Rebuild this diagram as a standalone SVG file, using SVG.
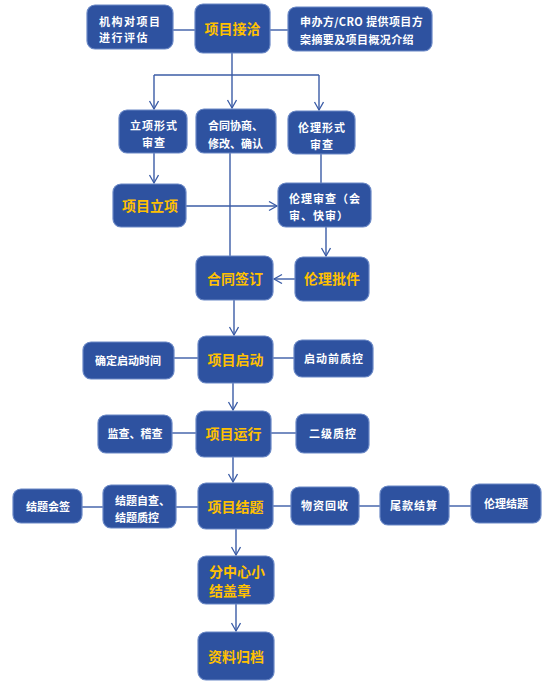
<svg xmlns="http://www.w3.org/2000/svg" width="551" height="688" viewBox="0 0 551 688">
<defs>
<marker id="arr" markerUnits="userSpaceOnUse" markerWidth="12" markerHeight="12" refX="9" refY="5" orient="auto">
<path d="M1,0.5 L9,5 L1,9.5" fill="none" stroke="#3B5CA6" stroke-width="1.3"/>
</marker>
<style>
.b{fill:#2E52A0;stroke:#6A88C6;stroke-width:1.2}
.t{font-family:"Noto Sans CJK SC","Liberation Sans",sans-serif;font-weight:bold;fill:#FFFFFF;font-size:11px}
.g{font-family:"Noto Sans CJK SC","Liberation Sans",sans-serif;font-weight:bold;fill:#FFC000;font-size:14px}
.c{text-anchor:middle}
.l{fill:none;stroke:#3B5CA6;stroke-width:1.4}
.a{fill:none;stroke:#3B5CA6;stroke-width:1.4;marker-end:url(#arr)}
</style>
</defs>
<rect width="551" height="688" fill="#FFFFFF"/>
<g id="connectors">
<line class="l" x1="173" y1="30" x2="195" y2="30"/>
<line class="l" x1="270" y1="30" x2="288" y2="30"/>
<line class="a" x1="232" y1="53" x2="232" y2="108"/>
<polyline class="l" points="154,75 319,75"/>
<line class="a" x1="154" y1="75" x2="154" y2="109"/>
<line class="a" x1="319" y1="75" x2="319" y2="110"/>
<line class="a" x1="154" y1="153" x2="154" y2="183"/>
<line class="l" x1="230" y1="153" x2="230" y2="256"/>
<line class="l" x1="321" y1="154" x2="321" y2="183"/>
<line class="a" x1="186" y1="206" x2="277" y2="206"/>
<line class="a" x1="326" y1="227" x2="326" y2="256"/>
<line class="a" x1="295" y1="279" x2="274" y2="279"/>
<line class="a" x1="234" y1="300" x2="234" y2="335"/>
<line class="l" x1="174" y1="358" x2="198" y2="358"/>
<line class="l" x1="273" y1="358" x2="294" y2="358"/>
<line class="a" x1="233" y1="383" x2="233" y2="410"/>
<line class="l" x1="172" y1="433" x2="196" y2="433"/>
<line class="l" x1="271" y1="433" x2="296" y2="433"/>
<line class="a" x1="233" y1="457" x2="233" y2="482"/>
<line class="l" x1="82" y1="507" x2="103" y2="507"/>
<line class="l" x1="176" y1="507" x2="198" y2="507"/>
<line class="l" x1="273" y1="506" x2="291" y2="506"/>
<line class="l" x1="359" y1="506" x2="380" y2="506"/>
<line class="l" x1="449" y1="506" x2="471" y2="506"/>
<line class="a" x1="236" y1="529" x2="236" y2="555"/>
<line class="a" x1="236" y1="604" x2="236" y2="631"/>
</g>
<g id="n1"><rect class="b" x="87" y="5" width="86" height="44" rx="8"/><text class="t" x="99" y="26" letter-spacing="1.5">机构对项目</text><text class="t" x="99" y="42" letter-spacing="1.5">进行评估</text></g>
<g id="n2"><rect class="b" x="195" y="4" width="75" height="49" rx="8"/><text class="g c" x="232.5" y="34">项目接洽</text></g>
<g id="n3"><rect class="b" x="288" y="7" width="144" height="44" rx="8"/><text class="t" x="300" y="26" letter-spacing="0.4">申办方/CRO 提供项目方</text><text class="t" x="300" y="44" letter-spacing="0.4">案摘要及项目概况介绍</text></g>
<g id="n4"><rect class="b" x="119" y="110" width="68" height="43" rx="8"/><text class="t c" x="154" y="130" letter-spacing="1">立项形式</text><text class="t c" x="154" y="147" letter-spacing="1">审查</text></g>
<g id="n5"><rect class="b" x="196" y="109" width="80" height="44" rx="8"/><text class="t" x="208" y="130">合同协商、</text><text class="t" x="208" y="148">修改、确认</text></g>
<g id="n6"><rect class="b" x="288" y="111" width="67" height="43" rx="8"/><text class="t c" x="322" y="132" letter-spacing="1">伦理形式</text><text class="t c" x="322" y="149" letter-spacing="1">审查</text></g>
<g id="n7"><rect class="b" x="113" y="184" width="73" height="43" rx="8"/><text class="g c" x="150" y="211">项目立项</text></g>
<g id="n8"><rect class="b" x="278" y="183" width="93" height="44" rx="8"/><text class="t" x="289" y="203" letter-spacing="1">伦理审查（会</text><text class="t" x="289" y="220" letter-spacing="1">审、快审）</text></g>
<g id="n9"><rect class="b" x="196" y="256" width="77" height="44" rx="8"/><text class="g c" x="235" y="284">合同签订</text></g>
<g id="n10"><rect class="b" x="295" y="257" width="74" height="44" rx="8"/><text class="g c" x="332" y="284">伦理批件</text></g>
<g id="n11"><rect class="b" x="83" y="342" width="91" height="37" rx="8"/><text class="t c" x="128" y="365">确定启动时间</text></g>
<g id="n12"><rect class="b" x="198" y="336" width="75" height="47" rx="8"/><text class="g c" x="235.5" y="365">项目启动</text></g>
<g id="n13"><rect class="b" x="294" y="340" width="79" height="37" rx="8"/><text class="t c" x="334" y="363" letter-spacing="1">启动前质控</text></g>
<g id="n14"><rect class="b" x="98" y="415" width="74" height="38" rx="8"/><text class="t c" x="135" y="438">监查、稽查</text></g>
<g id="n15"><rect class="b" x="196" y="411" width="75" height="46" rx="8"/><text class="g c" x="233.5" y="439">项目运行</text></g>
<g id="n16"><rect class="b" x="296" y="414" width="73" height="39" rx="8"/><text class="t c" x="333" y="438" letter-spacing="1">二级质控</text></g>
<g id="n17"><rect class="b" x="13" y="489" width="69" height="34" rx="8"/><text class="t c" x="48" y="511">结题会签</text></g>
<g id="n18"><rect class="b" x="103" y="485" width="73" height="43" rx="8"/><text class="t" x="115" y="505">结题自查、</text><text class="t" x="115" y="522">结题质控</text></g>
<g id="n19"><rect class="b" x="198" y="483" width="75" height="46" rx="8"/><text class="g c" x="235.5" y="512">项目结题</text></g>
<g id="n20"><rect class="b" x="291" y="487" width="68" height="38" rx="8"/><text class="t c" x="325" y="510" letter-spacing="1">物资回收</text></g>
<g id="n21"><rect class="b" x="380" y="486" width="69" height="39" rx="8"/><text class="t c" x="414" y="510" letter-spacing="1">尾款结算</text></g>
<g id="n22"><rect class="b" x="471" y="484" width="70" height="39" rx="8"/><text class="t c" x="506" y="508">伦理结题</text></g>
<g id="n23"><rect class="b" x="198" y="556" width="76" height="48" rx="8"/><text class="g" x="209" y="577" font-size="13.5">分中心小</text><text class="g" x="209" y="596" font-size="13.5">结盖章</text></g>
<g id="n24"><rect class="b" x="198" y="632" width="76" height="48" rx="8"/><text class="g c" x="236" y="662">资料归档</text></g>
</svg>
